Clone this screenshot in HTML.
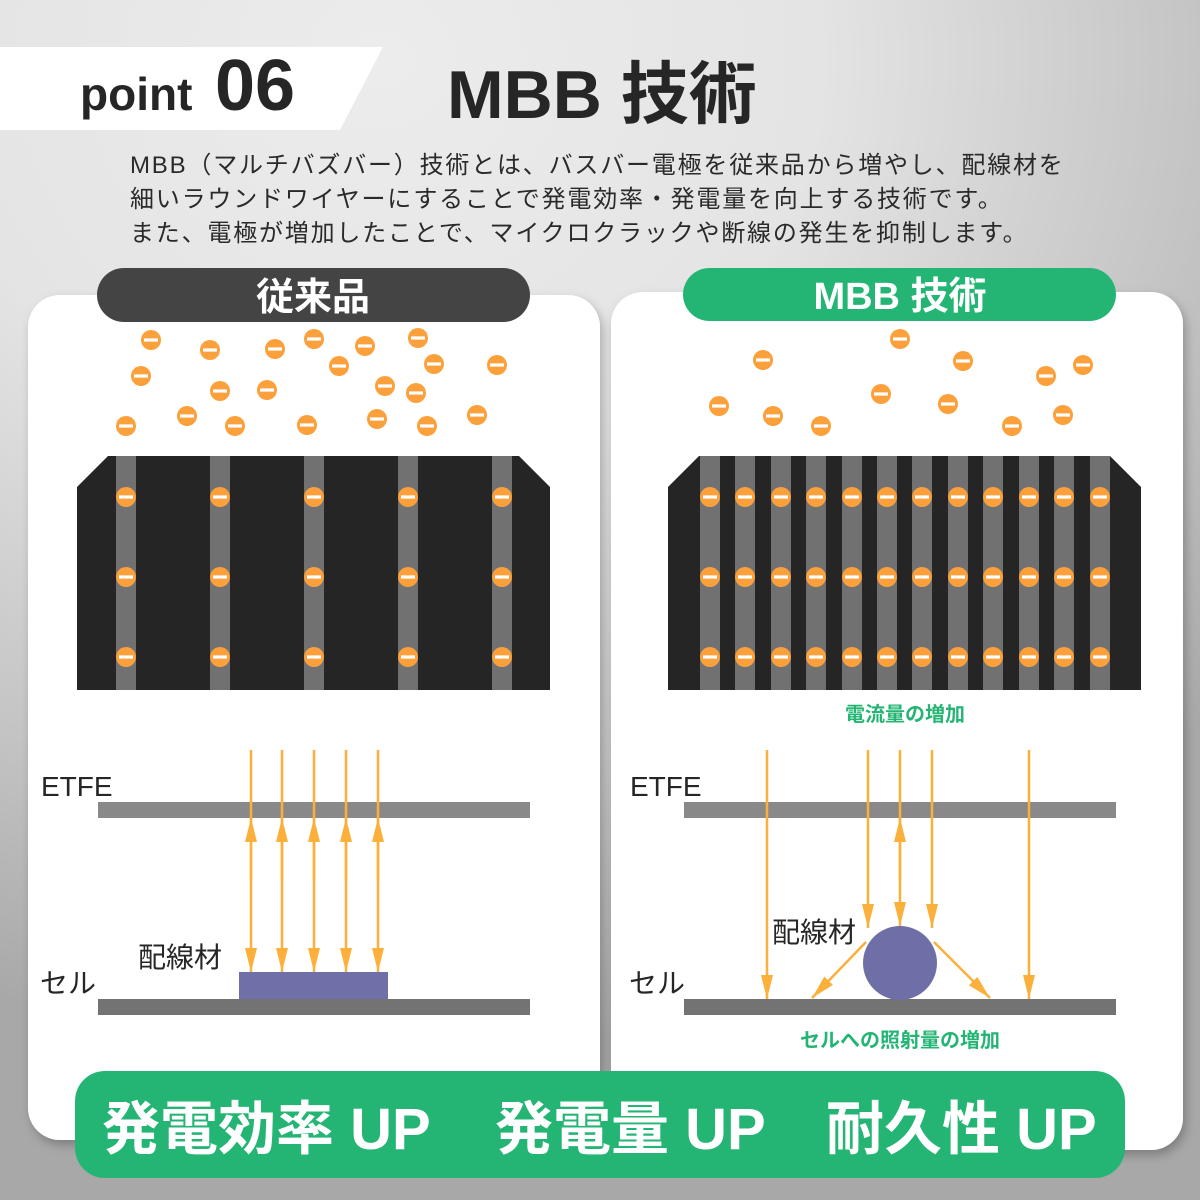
<!DOCTYPE html>
<html><head><meta charset="utf-8"><style>
html,body{margin:0;padding:0;}
body{width:1200px;height:1200px;overflow:hidden;background:radial-gradient(ellipse 1100px 1000px at 380px 60px,#ececec 0%,#e4e4e4 40%,#c4c4c4 75%,#a8a8a8 100%);}
svg{position:absolute;left:0;top:0;}
text{font-family:"Liberation Sans","Noto Sans CJK JP",sans-serif;}
</style></head><body>
<svg width="1200" height="1200" viewBox="0 0 1200 1200" xmlns="http://www.w3.org/2000/svg">
<defs>
<g id="e"><circle r="10" fill="#fca03c"/><rect x="-7" y="-1.6" width="14" height="3.2" fill="#fff"/></g>
<filter id="sh" x="-10%" y="-10%" width="120%" height="120%"><feDropShadow dx="3" dy="5" stdDeviation="5" flood-color="#000" flood-opacity="0.25"/></filter>
<marker id="ah" viewBox="0 0 24 12" refX="24" refY="6" markerWidth="24" markerHeight="12" markerUnits="userSpaceOnUse" orient="auto"><path d="M0 0 L24 6 L0 12 Z" fill="#fbb03b"/></marker>
</defs>
<!-- header -->
<polygon points="0,47 383,47 340,130 0,130" fill="#fff"/>
<text x="80" y="110" font-size="46" font-weight="bold" fill="#262626">point</text>
<text x="215" y="110" font-size="72" font-weight="bold" fill="#262626">06</text>
<text x="447" y="118" font-size="68" font-weight="bold" fill="#262626">MBB 技術</text>
<g font-size="24" fill="#2a2a2a" letter-spacing="1.8">
<text x="130" y="173">MBB（マルチバズバー）技術とは、バスバー電極を従来品から増やし、配線材を</text>
<text x="130" y="207">細いラウンドワイヤーにすることで発電効率・発電量を向上する技術です。</text>
<text x="130" y="241">また、電極が増加したことで、マイクロクラックや断線の発生を抑制します。</text>
</g>
<!-- cards -->
<rect x="28" y="295" width="572" height="845" rx="32" fill="#fff" filter="url(#sh)"/>
<rect x="611" y="292" width="572" height="858" rx="32" fill="#fff" filter="url(#sh)"/>
<rect x="97" y="268" width="433" height="54" rx="27" fill="#444"/>
<text x="313" y="310" font-size="38" font-weight="bold" fill="#fff" text-anchor="middle">従来品</text>
<rect x="683" y="268" width="433" height="53" rx="26.5" fill="#24b574"/>
<text x="900" y="309" font-size="38" font-weight="bold" fill="#fff" text-anchor="middle">MBB 技術</text>
<!-- left free electrons -->
<use href="#e" x="151" y="340"/><use href="#e" x="210" y="350"/><use href="#e" x="275" y="349"/><use href="#e" x="314" y="339"/><use href="#e" x="365" y="346"/><use href="#e" x="418" y="338"/><use href="#e" x="141" y="376"/><use href="#e" x="220" y="391"/><use href="#e" x="267" y="390"/><use href="#e" x="339" y="366"/><use href="#e" x="385" y="386"/><use href="#e" x="434" y="364"/><use href="#e" x="497" y="365"/><use href="#e" x="416" y="393"/><use href="#e" x="126" y="426"/><use href="#e" x="187" y="416"/><use href="#e" x="235" y="426"/><use href="#e" x="307" y="425"/><use href="#e" x="377" y="419"/><use href="#e" x="427" y="426"/><use href="#e" x="477" y="415"/>
<!-- right free electrons -->
<use href="#e" x="763" y="360"/><use href="#e" x="900" y="339"/><use href="#e" x="963" y="361"/><use href="#e" x="1046" y="376"/><use href="#e" x="1083" y="365"/><use href="#e" x="719" y="406"/><use href="#e" x="773" y="416"/><use href="#e" x="821" y="426"/><use href="#e" x="881" y="394"/><use href="#e" x="948" y="404"/><use href="#e" x="1012" y="426"/><use href="#e" x="1063" y="415"/>
<!-- left cell -->
<polygon points="108,456 519,456 550,487 550,690 77,690 77,487" fill="#252525"/>
<g fill="#717171"><rect x="116" y="456" width="20" height="234"/><rect x="210" y="456" width="20" height="234"/><rect x="304" y="456" width="20" height="234"/><rect x="398" y="456" width="20" height="234"/><rect x="492" y="456" width="20" height="234"/></g>
<g>
<use href="#e" x="126" y="497"/><use href="#e" x="220" y="497"/><use href="#e" x="314" y="497"/><use href="#e" x="408" y="497"/><use href="#e" x="502" y="497"/>
<use href="#e" x="126" y="577"/><use href="#e" x="220" y="577"/><use href="#e" x="314" y="577"/><use href="#e" x="408" y="577"/><use href="#e" x="502" y="577"/>
<use href="#e" x="126" y="657"/><use href="#e" x="220" y="657"/><use href="#e" x="314" y="657"/><use href="#e" x="408" y="657"/><use href="#e" x="502" y="657"/>
</g>
<!-- right cell -->
<polygon points="699,456 1110,456 1141,487 1141,690 668,690 668,487" fill="#252525"/>
<g fill="#717171">
<rect x="700" y="456" width="20" height="234"/><rect x="735" y="456" width="20" height="234"/><rect x="771" y="456" width="20" height="234"/><rect x="806" y="456" width="20" height="234"/><rect x="842" y="456" width="20" height="234"/><rect x="877" y="456" width="20" height="234"/><rect x="912" y="456" width="20" height="234"/><rect x="948" y="456" width="20" height="234"/><rect x="983" y="456" width="20" height="234"/><rect x="1019" y="456" width="20" height="234"/><rect x="1054" y="456" width="20" height="234"/><rect x="1090" y="456" width="20" height="234"/>
</g>
<g>
<use href="#e" x="710" y="497"/><use href="#e" x="745" y="497"/><use href="#e" x="781" y="497"/><use href="#e" x="816" y="497"/><use href="#e" x="852" y="497"/><use href="#e" x="887" y="497"/><use href="#e" x="922" y="497"/><use href="#e" x="958" y="497"/><use href="#e" x="993" y="497"/><use href="#e" x="1029" y="497"/><use href="#e" x="1064" y="497"/><use href="#e" x="1100" y="497"/>
<use href="#e" x="710" y="577"/><use href="#e" x="745" y="577"/><use href="#e" x="781" y="577"/><use href="#e" x="816" y="577"/><use href="#e" x="852" y="577"/><use href="#e" x="887" y="577"/><use href="#e" x="922" y="577"/><use href="#e" x="958" y="577"/><use href="#e" x="993" y="577"/><use href="#e" x="1029" y="577"/><use href="#e" x="1064" y="577"/><use href="#e" x="1100" y="577"/>
<use href="#e" x="710" y="657"/><use href="#e" x="745" y="657"/><use href="#e" x="781" y="657"/><use href="#e" x="816" y="657"/><use href="#e" x="852" y="657"/><use href="#e" x="887" y="657"/><use href="#e" x="922" y="657"/><use href="#e" x="958" y="657"/><use href="#e" x="993" y="657"/><use href="#e" x="1029" y="657"/><use href="#e" x="1064" y="657"/><use href="#e" x="1100" y="657"/>
</g>
<text x="905" y="721" font-size="20" font-weight="bold" fill="#24b574" text-anchor="middle">電流量の増加</text>
<!-- left bottom diagram -->
<rect x="98" y="802" width="432" height="16" fill="#898989"/>
<rect x="98" y="999" width="432" height="16" fill="#737373"/>
<rect x="239" y="972" width="149" height="27" fill="#7070a8"/>
<g stroke="#fbb03b" stroke-width="2.5" fill="none">
<line x1="251" y1="750" x2="251" y2="972" marker-end="url(#ah)"/>
<line x1="282" y1="750" x2="282" y2="972" marker-end="url(#ah)"/>
<line x1="314" y1="750" x2="314" y2="972" marker-end="url(#ah)"/>
<line x1="346" y1="750" x2="346" y2="972" marker-end="url(#ah)"/>
<line x1="378" y1="750" x2="378" y2="972" marker-end="url(#ah)"/>
<line x1="251" y1="880" x2="251" y2="818" marker-end="url(#ah)"/>
<line x1="282" y1="880" x2="282" y2="818" marker-end="url(#ah)"/>
<line x1="314" y1="880" x2="314" y2="818" marker-end="url(#ah)"/>
<line x1="346" y1="880" x2="346" y2="818" marker-end="url(#ah)"/>
<line x1="378" y1="880" x2="378" y2="818" marker-end="url(#ah)"/>
</g>
<g font-size="28" fill="#262626">
<text x="41" y="796">ETFE</text>
<text x="40" y="993">セル</text>
<text x="138" y="967">配線材</text>
<text x="630" y="796">ETFE</text>
<text x="629" y="993">セル</text>
<text x="772" y="942">配線材</text>
</g>
<!-- right bottom diagram -->
<rect x="684" y="802" width="432" height="16" fill="#898989"/>
<rect x="684" y="999" width="432" height="16" fill="#737373"/>
<ellipse cx="900" cy="963" rx="37" ry="37" fill="#6f6fa8"/>
<g stroke="#fbb03b" stroke-width="2.5" fill="none">
<line x1="767" y1="750" x2="767" y2="999" marker-end="url(#ah)"/>
<line x1="1029" y1="750" x2="1029" y2="999" marker-end="url(#ah)"/>
<line x1="868" y1="750" x2="868" y2="928" marker-end="url(#ah)"/>
<line x1="932" y1="750" x2="932" y2="928" marker-end="url(#ah)"/>
<line x1="900" y1="750" x2="900" y2="926" marker-end="url(#ah)"/>
<line x1="900" y1="880" x2="900" y2="818" marker-end="url(#ah)"/>
<line x1="866" y1="942" x2="812" y2="998" marker-end="url(#ah)"/>
<line x1="934" y1="942" x2="990" y2="998" marker-end="url(#ah)"/>
</g>
<text x="900" y="1047" font-size="20" font-weight="bold" fill="#24b574" text-anchor="middle">セルへの照射量の増加</text>
<!-- banner -->
<rect x="75" y="1071" width="1050" height="107" rx="30" fill="#24b574"/>
<g font-size="58" font-weight="bold" fill="#fff">
<text x="102" y="1149">発電効率 UP</text>
<text x="495" y="1149">発電量 UP</text>
<text x="826" y="1149">耐久性 UP</text>
</g>
</svg>
</body></html>
